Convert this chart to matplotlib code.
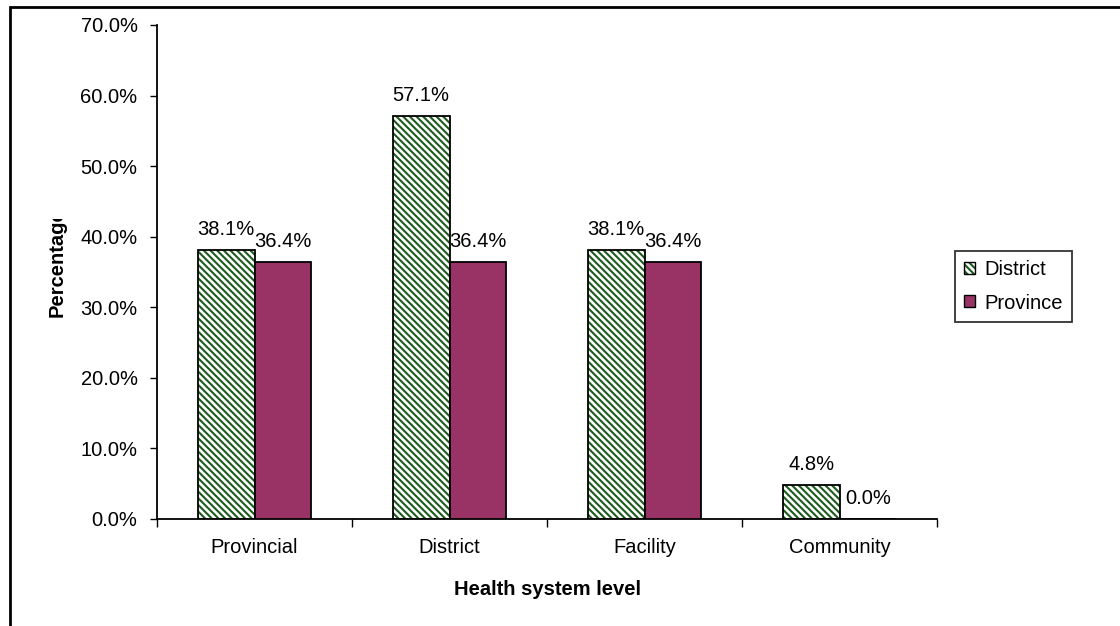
import matplotlib
matplotlib.use("Agg")
import matplotlib.pyplot as plt
from matplotlib.patches import Rectangle, Patch
from matplotlib.legend_handler import HandlerTuple
from matplotlib.transforms import Bbox
import numpy as np

categories = ["Provincial", "District", "Facility", "Community"]
district = [38.1, 57.1, 38.1, 4.8]
province = [36.4, 36.4, 36.4, 0.0]
y_ticks = [0, 10, 20, 30, 40, 50, 60, 70]

plt.rcParams["font.family"] = ["Liberation Sans", "DejaVu Sans"]
plt.rcParams["hatch.linewidth"] = 1.5

FS = 14.5
GREEN = "#1d5a1d"
PURPLE = "#993366"
HATCH = "\\" * 5

W, H = 1120, 626
fig = plt.figure(figsize=(W / 100, H / 100), dpi=100)
fig.patch.set_facecolor("white")

# plot area in pixel coordinates
left, right, top, bottom = 157, 937, 25, 519
ax = fig.add_axes([left / W, 1 - bottom / H, (right - left) / W, (bottom - top) / H])

x = np.arange(len(categories))
bw = 0.29
# hatched fill drawn in green, outline drawn separately in black
ax.bar(x - bw / 2, district, width=bw, facecolor="white", edgecolor=GREEN,
       linewidth=0, hatch=HATCH, zorder=2)
ax.bar(x - bw / 2, district, width=bw, fill=False, edgecolor="black",
       linewidth=1.3, zorder=3)
ax.bar(x + bw / 2, province, width=bw, facecolor=PURPLE, edgecolor="black",
       linewidth=1.3, zorder=3)

def px_to_data(px):
    return px * 70.0 / (bottom - top)

for xi, v in zip(x, district):
    ax.text(xi - bw / 2, v + px_to_data(21), f"{v:.1f}%", ha="center", va="center", fontsize=FS)
for xi, v in zip(x, province):
    ax.text(xi + bw / 2, v + px_to_data(21), f"{v:.1f}%", ha="center", va="center", fontsize=FS)

ax.set_xlim(-0.5, len(categories) - 0.5)
ax.set_ylim(0, 70)
ax.set_yticks(y_ticks)
ax.set_yticklabels([f"{t:.1f}%" for t in y_ticks], fontsize=FS)
ax.set_xticks(x)
ax.set_xticklabels(categories, fontsize=FS)
ax.tick_params(axis="x", length=0, pad=14)
ax.tick_params(axis="y", direction="out", length=5, width=1, pad=9)
# category separators below the axis
ax.set_xticks(np.arange(-0.5, len(categories)), minor=True)
ax.tick_params(axis="x", which="minor", direction="out", length=6, width=1)

for s in ["top", "right"]:
    ax.spines[s].set_visible(False)
ax.spines["left"].set_linewidth(1.3)
ax.spines["bottom"].set_linewidth(1.3)

ax.set_xlabel("Health system level", fontsize=FS, fontweight="bold", labelpad=16)

ylab = fig.text(57 / W, 1 - 263 / H, "Percentage", rotation=90, ha="center", va="center",
                fontsize=FS, fontweight="bold")
ylab.set_clip_box(Bbox.from_extents(0, 0, W, H - 219))
ylab.set_clip_on(True)

h_district = (Patch(facecolor="white", edgecolor=GREEN, linewidth=0, hatch=HATCH),
              Patch(fill=False, edgecolor="black", linewidth=1.0))
h_province = Patch(facecolor=PURPLE, edgecolor="black", linewidth=1.0)
leg = fig.legend([h_district, h_province], ["District", "Province"],
                 handler_map={tuple: HandlerTuple(ndivide=1)},
                 loc="center", bbox_to_anchor=(1013.5 / W, 1 - 286.5 / H),
                 fontsize=FS, frameon=True, fancybox=False, edgecolor="black",
                 handlelength=0.55, handleheight=0.55, handletextpad=0.45,
                 labelspacing=0.7, borderpad=0.45, borderaxespad=0)
leg.get_frame().set_linewidth(1.3)

# outer chart-area frame
fig.add_artist(Rectangle((9.5 / W, -0.1), 1.2, 1 - 6.5 / H + 0.1, transform=fig.transFigure,
                         fill=False, edgecolor="black", linewidth=2))

fig.savefig("out.png", dpi=100)
